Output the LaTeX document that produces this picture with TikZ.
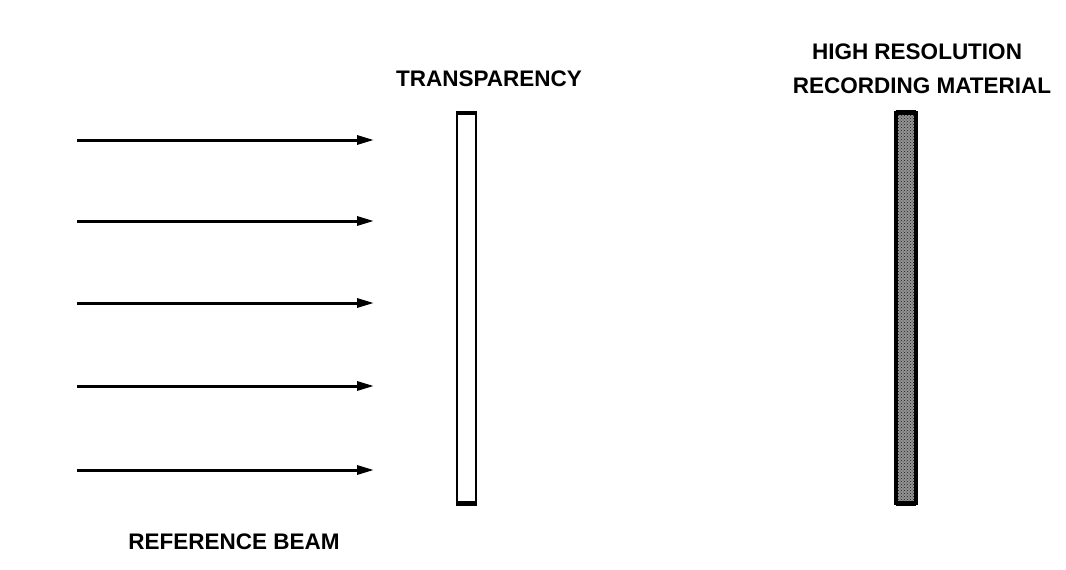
\documentclass[tikz,border=0pt]{standalone}
\usepackage{fontspec}
\setmainfont{Liberation Sans}
\usetikzlibrary{arrows.meta,patterns}
\begin{document}
\begin{tikzpicture}[x=1pt,y=-1pt,
  lbl/.style={font=\bfseries\fontsize{22.5}{27}\selectfont, inner sep=0pt, anchor=center},
  beam/.style={line width=3pt, -{Triangle[length=17pt,width=9pt]}},
  clearplate/.style={draw=black, line width=2.4pt, fill=white, minimum width=19pt,
    minimum height=389pt, inner sep=0pt},
  filmplate/.style={draw=black, line width=2.8pt, fill=black!42,
    minimum width=18pt, minimum height=389pt, inner sep=0pt}]
\useasboundingbox (0,0) rectangle (1066,570);
\fill[white] (0,0) rectangle (1066,570);

% parallel reference beam
\foreach \i/\y in {1/140,2/221,3/303,4/386,5/470}{
  \coordinate (s\i) at (77,\y);
  \coordinate (e\i) at (374,\y);
  \draw[beam] (s\i) -- (e\i);
}

% transparency
\node[clearplate] (tr) at (466.5,308) {};
\draw[line width=3.6pt] (tr.north west) -- (tr.north east);
\draw[line width=3.6pt] (tr.south west) -- (tr.south east);

% recording material
\node[filmplate] (rm) at (906,308) {};
\fill[pattern=crosshatch dots, pattern color=black!90] (rm.south west) rectangle (rm.north east);
\draw[line width=2.8pt] (rm.south west) rectangle (rm.north east);
\draw[line width=3.6pt] (rm.north west) -- (rm.north east);
\draw[line width=3.6pt] (rm.south west) -- (rm.south east);

% labels
\node[lbl] (ltr) at (489,79) {TRANSPARENCY};
\node[lbl] (lhr) at (917,52) {HIGH RESOLUTION};
\node[lbl] (lrm) at (922,86) {RECORDING MATERIAL};
\node[lbl] (lrb) at (234,542) {REFERENCE BEAM};
\end{tikzpicture}
\end{document}
